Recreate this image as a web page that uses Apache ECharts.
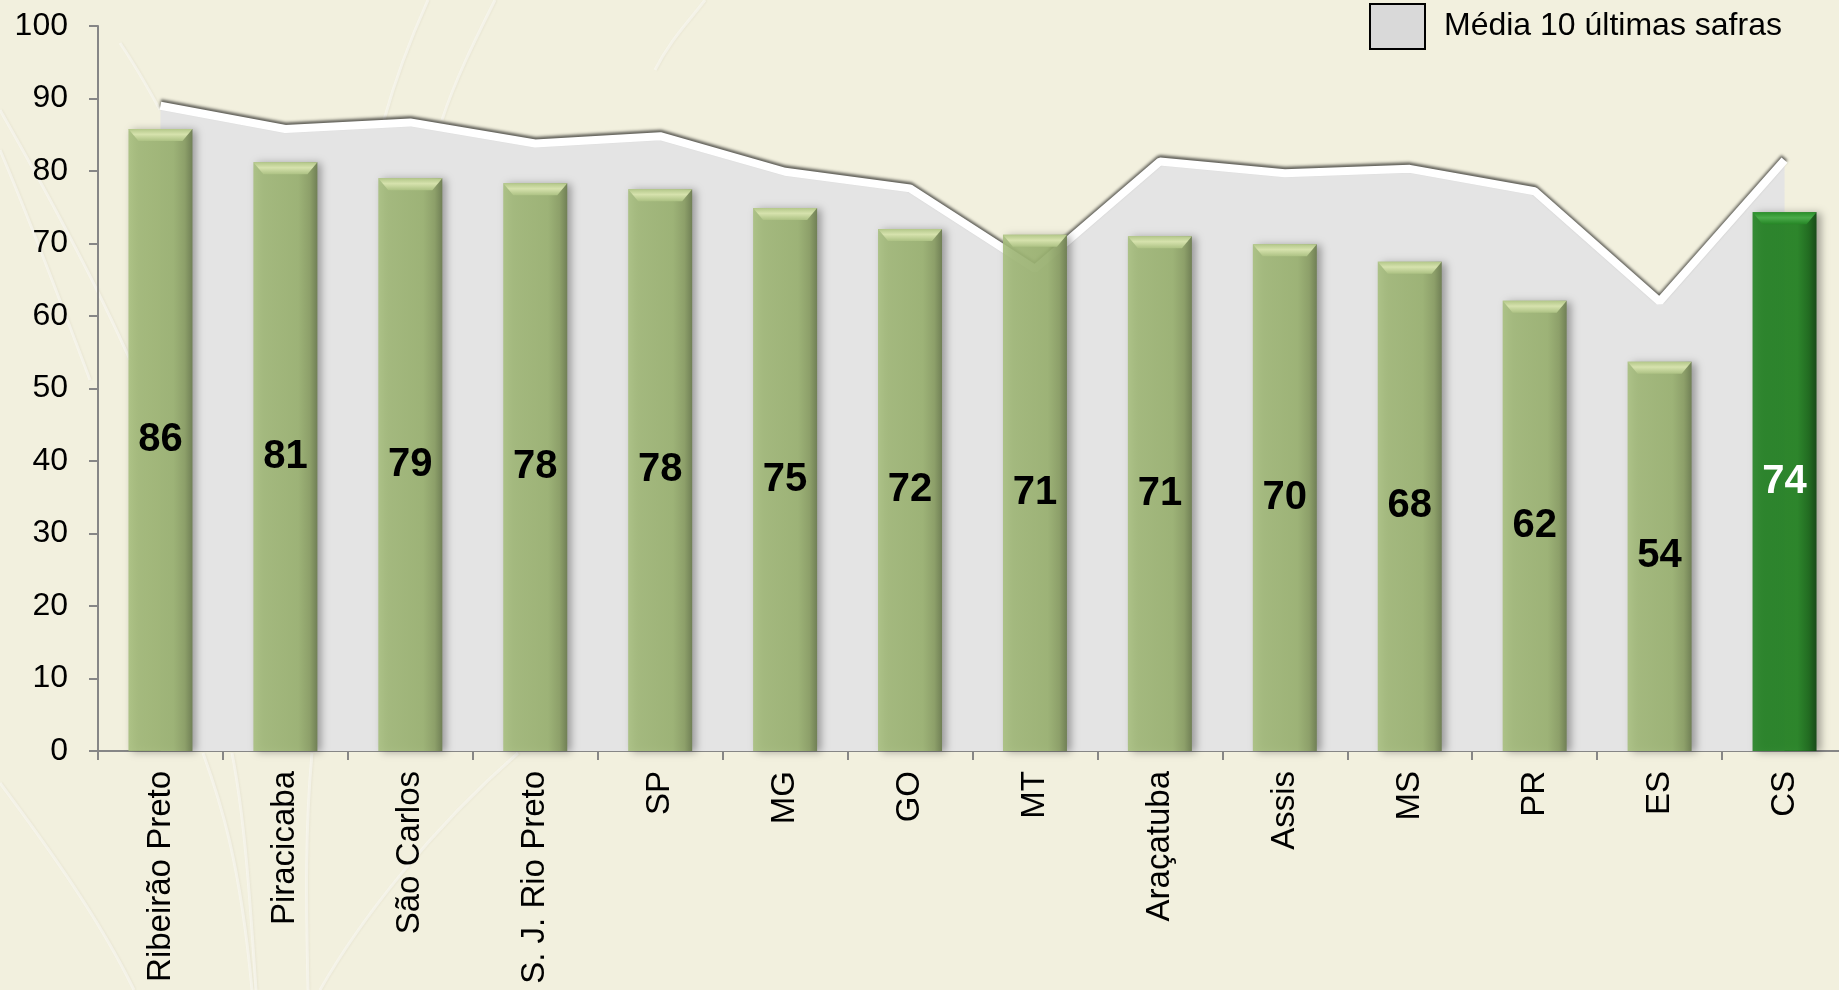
<!DOCTYPE html>
<html>
<head>
<meta charset="utf-8">
<script src="https://cdn.jsdelivr.net/npm/echarts@6/dist/echarts.min.js"></script>
<style>
html,body{margin:0;padding:0;background:#F2F0DE;overflow:hidden;}
#c{width:1860px;height:990px;}
</style>
</head>
<body>
<div id="c"></div>
<script>
const categories = ['Ribeirão Preto','Piracicaba','São Carlos','S. J. Rio Preto','SP','MG','GO','MT','Araçatuba','Assis','MS','PR','ES','CS'];
const currentValues = [85.8, 81.2, 79.0, 78.3, 77.5, 74.9, 72.0, 71.2, 71.0, 69.9, 67.5, 62.1, 53.7, 74.3];
const averageValues = [89.0, 85.8, 86.7, 83.8, 84.8, 79.9, 77.6, 66.5, 81.3, 79.7, 80.3, 77.2, 62.0, 81.5];
const highlightCategory = 'CS';
const legendName = 'Média 10 últimas safras';

const FONT = "'Liberation Sans', Arial, sans-serif";
const chart = echarts.init(document.getElementById('c'));

const greenBody = new echarts.graphic.LinearGradient(0,0,1,0,[
  {offset:0, color:'rgba(166,190,124,0.88)'},
  {offset:0.7, color:'rgba(157,181,115,0.90)'},
  {offset:0.88, color:'rgba(140,160,102,0.93)'},
  {offset:1, color:'rgba(110,126,82,0.96)'}
]);
const darkBody = new echarts.graphic.LinearGradient(0,0,1,0,[
  {offset:0, color:'rgba(30,128,30,0.88)'},
  {offset:0.7, color:'rgba(32,130,32,0.90)'},
  {offset:0.88, color:'rgba(26,104,26,0.94)'},
  {offset:1, color:'rgba(20,72,20,0.97)'}
]);

const barData = currentValues.map((v,i)=>({
  value:v,
  itemStyle:{color: categories[i]===highlightCategory ? darkBody : greenBody},
  label:{color: categories[i]===highlightCategory ? '#ffffff' : '#000000'}
}));

// decorative background streaks (faint grass)
const streaks = [
  [[120,43],[135,65],[148,88],[160,110]],
  [[428,0],[410,40],[395,80],[384,120]],
  [[495,0],[475,40],[455,80],[442,120]],
  [[0,110],[40,180],[90,270],[130,360]],
  [[0,150],[30,220],[60,300],[90,380]],
  [[655,70],[670,40],[690,20],[705,0]],
  [[0,783],[50,850],[100,920],[134,990]],
  [[203,753],[220,800],[240,860],[252,990]],
  [[232,753],[245,820],[250,900],[256,990]],
  [[312,753],[305,830],[306,900],[308,990]],
  [[518,753],[430,830],[360,920],[320,990]]
];
const graphics = streaks.map(p=>({
  type:'bezierCurve', silent:true, z:-10,
  shape:{x1:p[0][0],y1:p[0][1],cpx1:p[1][0],cpy1:p[1][1],cpx2:p[2][0],cpy2:p[2][1],x2:p[3][0],y2:p[3][1]},
  style:{stroke:'rgba(255,255,255,0.45)', lineWidth:3, fill:null, shadowBlur:2, shadowColor:'rgba(120,110,80,0.15)', shadowOffsetX:1}
}));

chart.setOption({
  backgroundColor:'#F2F0DE',
  animation:false,
  graphic: graphics,
  grid:{left:98, top:26, width:1749, height:725, containLabel:false},
  legend:{
    left:1369, top:3, padding:0, itemWidth:55, itemHeight:45,
    data:[{name:legendName, icon:'rect', itemStyle:{color:'#D9D9D9', borderColor:'#000', borderWidth:2}}],
    textStyle:{fontFamily:FONT, fontSize:32, color:'#000', padding:[0,0,0,14]}
  },
  xAxis:{
    type:'category', data:categories,
    axisLine:{lineStyle:{color:'#868686', width:2}},
    axisTick:{show:true, length:9, lineStyle:{color:'#868686', width:2}},
    axisLabel:{rotate:90, margin:20, fontFamily:FONT, fontSize:33, color:'#000', interval:0}
  },
  yAxis:{
    type:'value', min:0, max:100, interval:10,
    splitLine:{show:false},
    axisLine:{show:true, lineStyle:{color:'#868686', width:2}},
    axisTick:{show:true, length:9, lineStyle:{color:'#868686', width:2}},
    axisLabel:{margin:30, fontFamily:FONT, fontSize:32, color:'#000'}
  },
  series:[
    {
      name:legendName, type:'line', data:averageValues, symbol:'none', z:1,
      itemStyle:{color:'#D9D9D9'},
      lineStyle:{color:'#ffffff', width:8, shadowColor:'rgba(0,0,0,0.6)', shadowBlur:3, shadowOffsetY:-2.5},
      areaStyle:{color:'#E4E4E4', opacity:1}
    },
    {
      name:'Safra', type:'bar', data:barData, barWidth:64, barGap:'-100%', z:3,
      itemStyle:{shadowColor:'rgba(0,0,0,0.35)', shadowBlur:8, shadowOffsetX:4, shadowOffsetY:1},
      label:{show:true, position:'inside', fontFamily:FONT, fontSize:40, fontWeight:'bold',
        formatter:p=>String(Math.round(p.value))}
    },
    {
      name:'bevel', type:'custom', z:4, silent:true,
      data:currentValues.map((v,i)=>[i,v]),
      renderItem:(params, api)=>{
        const pt = api.coord([api.value(0), api.value(1)]);
        const w = 64, h = 12, x = pt[0], y = pt[1];
        const isCS = categories[api.value(0)]===highlightCategory;
        const fill = new echarts.graphic.LinearGradient(0,0,0,1, isCS ? [
          {offset:0,color:'#2a8f2a'},{offset:0.45,color:'#4aab4a'},{offset:1,color:'#258525'}
        ] : [
          {offset:0,color:'#b3c789'},{offset:0.45,color:'#d6e2ad'},{offset:1,color:'#adc284'}
        ]);
        return {type:'polygon', shape:{points:[[x-w/2,y],[x+w/2,y],[x+w/2-10,y+h],[x-w/2+10,y+h]]},
          style:{fill:fill}};
      }
    }
  ]
});
</script>
</body>
</html>
